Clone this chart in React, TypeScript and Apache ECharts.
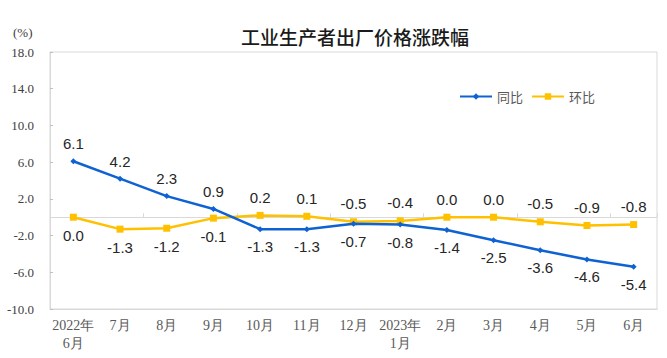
import React, { useEffect, useRef } from "react";
import * as echarts from "echarts";

const months = ["2022年\n6月", "7月", "8月", "9月", "10月", "11月", "12月", "2023年\n1月", "2月", "3月", "4月", "5月", "6月"];
const yoy = [6.1, 4.2, 2.3, 0.9, -1.3, -1.3, -0.7, -0.8, -1.4, -2.5, -3.6, -4.6, -5.4];
const mom = [0.0, -1.3, -1.2, -0.1, 0.2, 0.1, -0.5, -0.4, 0.0, 0.0, -0.5, -0.9, -0.8];
const seriesNames = ["同比", "环比"];
const titleText = "工业生产者出厂价格涨跌幅";
const unitText = "(%)";

const BLUE = "#0f62d2";
const YELLOW = "#ffc000";

export default function App() {
  const ref = useRef<HTMLDivElement>(null);
  useEffect(() => {
    if (!ref.current) return;
    const chart = echarts.init(ref.current, undefined, { renderer: "svg" });
    const labelStyle = {
      show: true,
      fontFamily: "Liberation Sans, Arial, sans-serif",
      fontSize: 15,
      color: "#262626",
      distance: 7,
      formatter: (p: any) => Number(p.value).toFixed(1),
    };
    const yoyData = yoy.map((v, i) => ({ value: v, label: { position: v > mom[i] ? "top" : "bottom" } }));
    const momData = mom.map((v, i) => ({ value: v, label: { position: v >= yoy[i] ? "top" : "bottom" } }));
    chart.setOption({
      animation: false,
      title: {
        text: titleText,
        left: 236,
        top: 22,
        textStyle: {
          fontFamily: "Noto Sans CJK SC, sans-serif",
          fontSize: 19,
          fontWeight: 500,
          color: "#1a1a1a",
        },
      },
      graphic: [
        {
          type: "text",
          left: 13,
          top: 26,
          style: {
            text: unitText,
            fontFamily: "Liberation Serif, serif",
            fontSize: 13,
            fill: "#404040",
          },
        },
      ],
      legend: {
        data: seriesNames,
        left: 454,
        top: 85,
        itemWidth: 32,
        itemHeight: 8,
        itemGap: 8,
        textStyle: {
          fontFamily: "Noto Sans CJK SC, sans-serif",
          fontSize: 13,
          color: "#595959",
        },
      },
      grid: {
        left: 50,
        right: 10,
        top: 52,
        bottom: 49,
        show: true,
        borderColor: "#d9d9d9",
        borderWidth: 1,
      },
      xAxis: [
        {
          type: "category",
          data: months,
          boundaryGap: true,
          axisLine: { onZero: false, lineStyle: { color: "#d9d9d9" } },
          axisTick: { show: false },
          axisLabel: {
            fontFamily: "Liberation Serif, serif",
            fontSize: 14,
            color: "#595959",
            margin: 7,
            lineHeight: 18,
            interval: 0,
          },
        },
        {
          type: "category",
          data: months,
          position: "top",
          boundaryGap: true,
          axisLine: { onZero: true, lineStyle: { color: "#d9d9d9" } },
          axisTick: { show: true, length: 4, lineStyle: { color: "#d9d9d9" } },
          axisLabel: { show: false },
        },
      ],
      yAxis: {
        type: "value",
        min: -10,
        max: 18,
        interval: 4,
        axisLine: { show: true, lineStyle: { color: "#d9d9d9" } },
        axisTick: { show: true, inside: true, length: 3, lineStyle: { color: "#bfbfbf" } },
        splitLine: { show: false },
        axisLabel: {
          fontFamily: "Liberation Serif, serif",
          fontSize: 13,
          color: "#404040",
          margin: 16,
          formatter: (v: number) => v.toFixed(1),
        },
      },
      series: [
        {
          name: seriesNames[0],
          type: "line",
          data: yoyData,
          xAxisIndex: 0,
          symbol: "diamond",
          symbolSize: 6,
          lineStyle: { color: BLUE, width: 2.5 },
          itemStyle: { color: BLUE },
          label: labelStyle,
          z: 3,
        },
        {
          name: seriesNames[1],
          type: "line",
          data: momData,
          xAxisIndex: 0,
          symbol: "rect",
          symbolSize: 7,
          lineStyle: { color: YELLOW, width: 2.5 },
          itemStyle: { color: YELLOW },
          label: labelStyle,
          z: 2,
        },
      ],
    });
    return () => chart.dispose();
  }, []);
  return <div ref={ref} style={{ width: 667, height: 358, position: "absolute", left: 0, top: 0 }} />;
}
